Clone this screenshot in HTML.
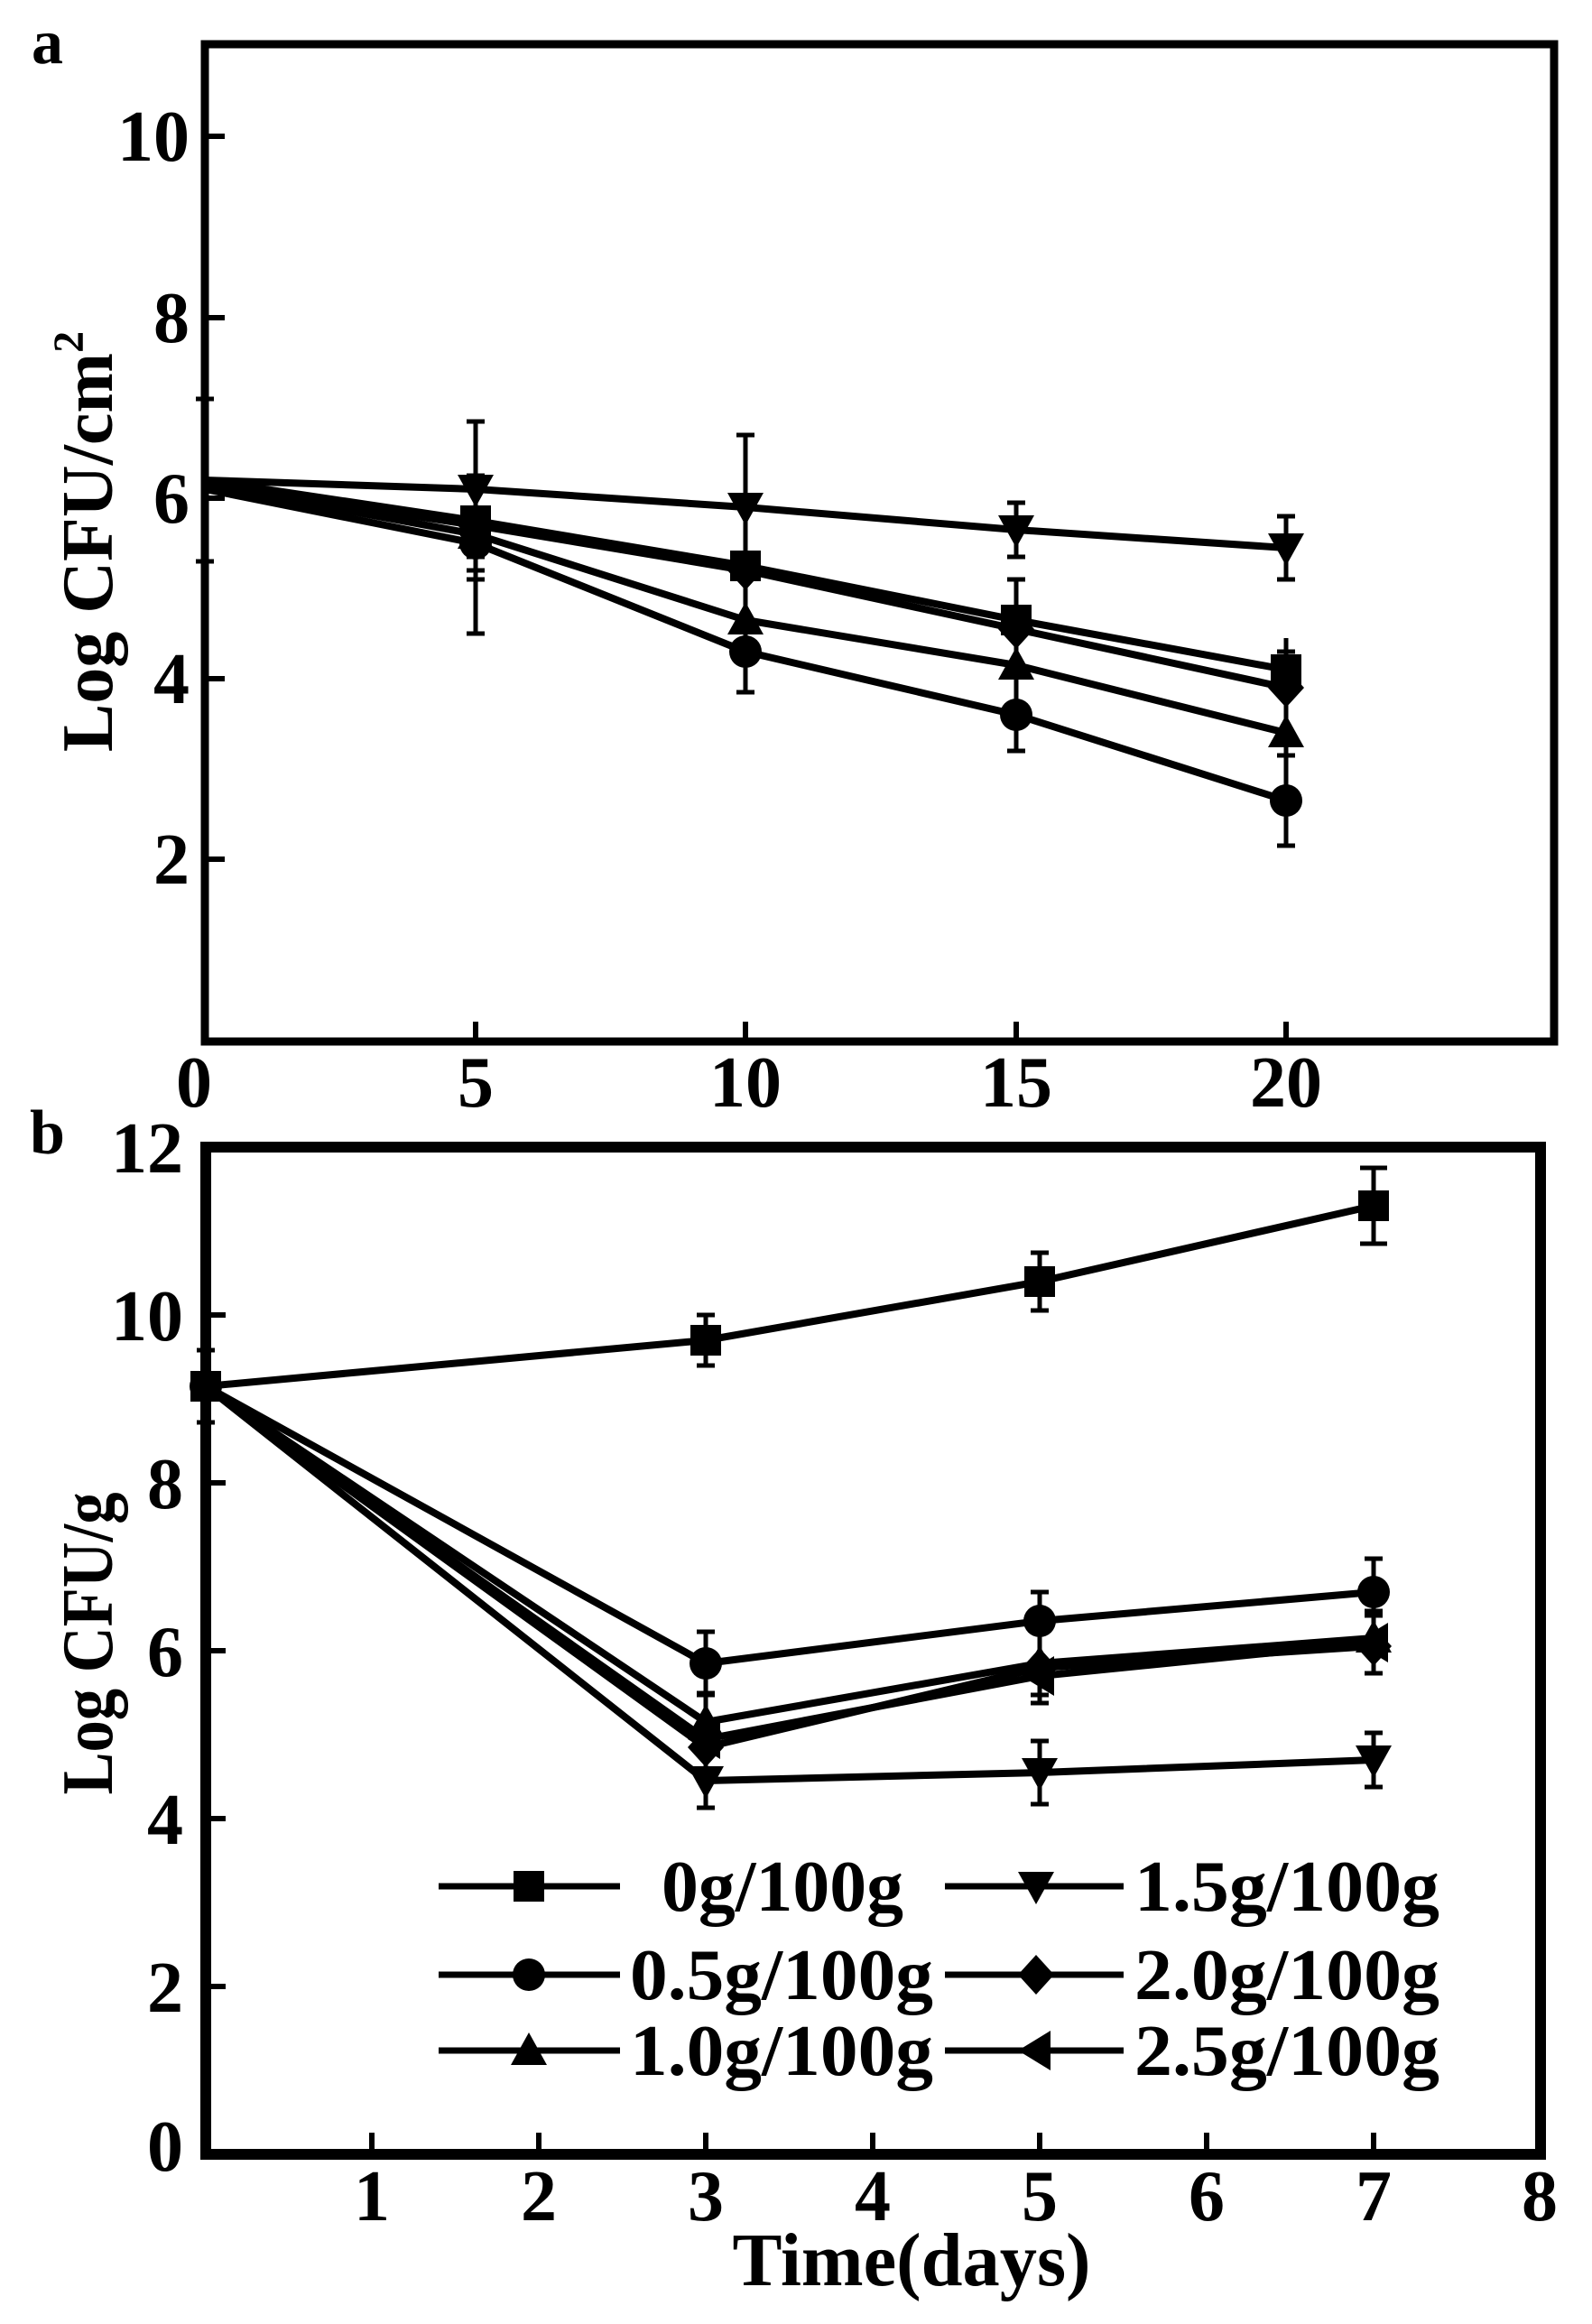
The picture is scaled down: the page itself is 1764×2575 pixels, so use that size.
<!DOCTYPE html>
<html><head><meta charset="utf-8"><style>html,body{margin:0;padding:0;background:#fff}svg{display:block}</style></head>
<body>
<svg width="1764" height="2575" viewBox="0 0 1764 2575" xmlns="http://www.w3.org/2000/svg" font-family="'Liberation Serif', serif" font-weight="bold">
<defs>
<symbol id="sq" overflow="visible"><rect x="-17" y="-17" width="34" height="34" fill="#000"/></symbol>
<symbol id="ci" overflow="visible"><circle r="18" fill="#000"/></symbol>
<symbol id="tu" overflow="visible"><polygon points="0,-20 20,16 -20,16" fill="#000"/></symbol>
<symbol id="td" overflow="visible"><polygon points="0,20 20,-16 -20,-16" fill="#000"/></symbol>
<symbol id="di" overflow="visible"><polygon points="0,-22 20,0 0,22 -20,0" fill="#000"/></symbol>
<symbol id="tl" overflow="visible"><polygon points="-20,0 16,-22 16,22" fill="#000"/></symbol>
</defs>

<!-- Panel a -->
<text x="35" y="70" font-size="70">a</text>
<g stroke="#000" stroke-width="5" fill="none">
<path d="M227 532v-90M217 442h20M227 532v90M217 622h20"/>
<path d="M227 542v-60M227 542v60"/>
<path d="M527 542v-75M517 467h20M527 542v75M517 617h20"/>
<path d="M527 577v-50M517 527h20M527 577v50"/>
<path d="M527 582v-50M527 582v50M517 632h20"/>
<path d="M527 592v-50M527 592v50M517 642h20"/>
<path d="M527 602v-50M527 602v100M517 702h20"/>
<path d="M826 562v-80M816 482h20M826 562v60"/>
<path d="M826 627v-45M826 627v45"/>
<path d="M826 632v-40M826 632v40"/>
<path d="M826 687v-40M826 687v40"/>
<path d="M826 722v-45M826 722v45M816 767h20"/>
<path d="M1126 587v-30M1116 557h20M1126 587v30M1116 617h20"/>
<path d="M1126 687v-45M1116 642h20M1126 687v45"/>
<path d="M1126 697v-40M1126 697v40"/>
<path d="M1126 737v-40M1126 737v40"/>
<path d="M1126 792v-40M1126 792v40M1116 832h20"/>
<path d="M1425 607v-35M1415 572h20M1425 607v35M1415 642h20"/>
<path d="M1425 742v-35M1425 742v35"/>
<path d="M1425 762v-40M1415 722h20M1425 762v40"/>
<path d="M1425 812v-40M1425 812v40"/>
<path d="M1425 887v-50M1415 837h20M1425 887v50M1415 937h20"/>
</g>
<g stroke="#000" stroke-width="8" fill="none" stroke-linejoin="round">
<polyline points="227,532 527,542 826,562 1126,587 1425,607"/>
<polyline points="227,532 527,577 826,627 1126,687 1425,742"/>
<polyline points="227,537 527,582 826,632 1126,697 1425,762"/>
<polyline points="227,537 527,592 826,687 1126,737 1425,812"/>
<polyline points="227,542 527,602 826,722 1126,792 1425,887"/>
</g>
<g>
<use href="#td" x="527" y="542"/><use href="#td" x="826" y="562"/><use href="#td" x="1126" y="587"/><use href="#td" x="1425" y="607"/>
<use href="#sq" x="527" y="577"/><use href="#sq" x="826" y="627"/><use href="#sq" x="1126" y="687"/><use href="#sq" x="1425" y="742"/>
<use href="#di" x="527" y="582"/><use href="#di" x="826" y="632"/><use href="#di" x="1126" y="697"/><use href="#di" x="1425" y="762"/>
<use href="#tu" x="527" y="592"/><use href="#tu" x="826" y="687"/><use href="#tu" x="1126" y="737"/><use href="#tu" x="1425" y="812"/>
<use href="#ci" x="527" y="602"/><use href="#ci" x="826" y="722"/><use href="#ci" x="1126" y="792"/><use href="#ci" x="1425" y="887"/>
</g>
<rect x="227" y="49" width="1495" height="1105" fill="none" stroke="#000" stroke-width="9"/>
<g stroke="#000" stroke-width="6">
<path d="M227 151h22M227 352h22M227 552h22M227 752h22M227 952h22"/>
<path d="M527 1154v-22M826 1154v-22M1126 1154v-22M1425 1154v-22"/>
</g>
<g font-size="80" text-anchor="end">
<text x="210" y="178">10</text><text x="210" y="379">8</text><text x="210" y="579">6</text><text x="210" y="779">4</text><text x="210" y="979">2</text>
</g>
<g font-size="80" text-anchor="middle">
<text x="215" y="1226">0</text><text x="527" y="1226">5</text><text x="826" y="1226">10</text><text x="1126" y="1226">15</text><text x="1425" y="1226">20</text>
</g>
<text transform="translate(124,600) rotate(-90)" font-size="80" text-anchor="middle">Log CFU/cm<tspan font-size="48" dy="-32">2</tspan></text>

<!-- Panel b -->
<text x="33" y="1278" font-size="70">b</text>
<g stroke="#000" stroke-width="5" fill="none">
<path d="M228 1536v-40M218 1496h20M228 1536v40M218 1576h20"/>
<path d="M782 1485v-28M772 1457h20M782 1485v28M772 1513h20"/>
<path d="M1152 1420v-32M1142 1388h20M1152 1420v32M1142 1452h20"/>
<path d="M1522 1336v-42M1507 1294h30M1522 1336v42M1507 1378h30"/>
<path d="M782 1843v-35M772 1808h20M782 1843v35M772 1878h20"/>
<path d="M1152 1796v-32M1142 1764h20M1152 1796v32"/>
<path d="M1522 1764v-37M1512 1727h20M1522 1764v37"/>
<path d="M782 1908v-32M772 1876h20M782 1908v32"/>
<path d="M1152 1843v-30M1152 1843v30"/>
<path d="M1522 1815v-30M1512 1785h20M1522 1815v30"/>
<path d="M782 1973v-30M782 1973v30M772 2003h20"/>
<path d="M1152 1964v-35M1142 1929h20M1152 1964v35M1142 1999h20"/>
<path d="M1522 1950v-30M1512 1920h20M1522 1950v30M1512 1980h20"/>
<path d="M782 1936v-30M782 1936v30"/>
<path d="M1152 1848v-30M1152 1848v30M1142 1878h20"/>
<path d="M1522 1824v-30M1522 1824v30M1512 1854h20"/>
<path d="M782 1927v-30M782 1927v30"/>
<path d="M1152 1857v-30M1152 1857v30M1142 1887h20"/>
<path d="M1522 1820v-30M1512 1790h20M1522 1820v30"/>
</g>
<g stroke="#000" stroke-width="8" fill="none" stroke-linejoin="round">
<polyline points="228,1536 782,1485 1152,1420 1522,1336"/>
<polyline points="228,1536 782,1843 1152,1796 1522,1764"/>
<polyline points="228,1536 782,1908 1152,1843 1522,1815"/>
<polyline points="228,1536 782,1973 1152,1964 1522,1950"/>
<polyline points="228,1536 782,1936 1152,1848 1522,1824"/>
<polyline points="228,1536 782,1927 1152,1857 1522,1820"/>
</g>
<g>
<use href="#sq" x="228" y="1536"/><use href="#ci" x="228" y="1536"/>
<use href="#sq" x="782" y="1485"/><use href="#sq" x="1152" y="1420"/><use href="#sq" x="1522" y="1336"/>
<use href="#ci" x="782" y="1843"/><use href="#ci" x="1152" y="1796"/><use href="#ci" x="1522" y="1764"/>
<use href="#tu" x="782" y="1908"/><use href="#tu" x="1152" y="1843"/><use href="#tu" x="1522" y="1815"/>
<use href="#td" x="782" y="1973"/><use href="#td" x="1152" y="1964"/><use href="#td" x="1522" y="1950"/>
<use href="#di" x="782" y="1936"/><use href="#di" x="1152" y="1848"/><use href="#di" x="1522" y="1824"/>
<use href="#tl" x="782" y="1927"/><use href="#tl" x="1152" y="1857"/><use href="#tl" x="1522" y="1820"/>
</g>
<!-- legend -->
<g stroke="#000" stroke-width="7">
<path d="M486 2090h201M486 2188h201M486 2272h201"/>
<path d="M1047 2090h198M1047 2188h198M1047 2272h198"/>
</g>
<g>
<use href="#sq" x="586" y="2090"/><use href="#ci" x="586" y="2188"/><use href="#tu" x="586" y="2272"/>
<use href="#td" x="1148" y="2090"/><use href="#di" x="1148" y="2188"/><use href="#tl" x="1148" y="2272"/>
</g>
<g font-size="80">
<text x="733" y="2117" textLength="268" lengthAdjust="spacingAndGlyphs">0g/100g</text>
<text x="698" y="2215" textLength="336" lengthAdjust="spacingAndGlyphs">0.5g/100g</text>
<text x="698" y="2299" textLength="336" lengthAdjust="spacingAndGlyphs">1.0g/100g</text>
<text x="1257" y="2117" textLength="338" lengthAdjust="spacingAndGlyphs">1.5g/100g</text>
<text x="1257" y="2215" textLength="338" lengthAdjust="spacingAndGlyphs">2.0g/100g</text>
<text x="1257" y="2299" textLength="338" lengthAdjust="spacingAndGlyphs">2.5g/100g</text>
</g>
<rect x="228" y="1271" width="1479" height="1116" fill="none" stroke="#000" stroke-width="12"/>
<g stroke="#000" stroke-width="6">
<path d="M228 1457h22M228 1643h22M228 1829h22M228 2015h22M228 2201h22"/>
<path d="M412 2387v-24M597 2387v-24M782 2387v-24M967 2387v-24M1152 2387v-24M1337 2387v-24M1522 2387v-24"/>
</g>
<g font-size="80" text-anchor="end">
<text x="203" y="1299">12</text><text x="203" y="1485">10</text><text x="203" y="1671">8</text><text x="203" y="1857">6</text><text x="203" y="2043">4</text><text x="203" y="2229">2</text><text x="203" y="2405">0</text>
</g>
<g font-size="80" text-anchor="middle">
<text x="412" y="2460">1</text><text x="597" y="2460">2</text><text x="782" y="2460">3</text><text x="967" y="2460">4</text><text x="1152" y="2460">5</text><text x="1337" y="2460">6</text><text x="1522" y="2460">7</text><text x="1706" y="2460">8</text>
</g>
<text x="1010" y="2532" font-size="84" text-anchor="middle" textLength="397" lengthAdjust="spacingAndGlyphs">Time(days)</text>
<text transform="translate(124,1821) rotate(-90)" font-size="80" text-anchor="middle" textLength="335" lengthAdjust="spacingAndGlyphs">Log CFU/g</text>
</svg>
</body></html>
